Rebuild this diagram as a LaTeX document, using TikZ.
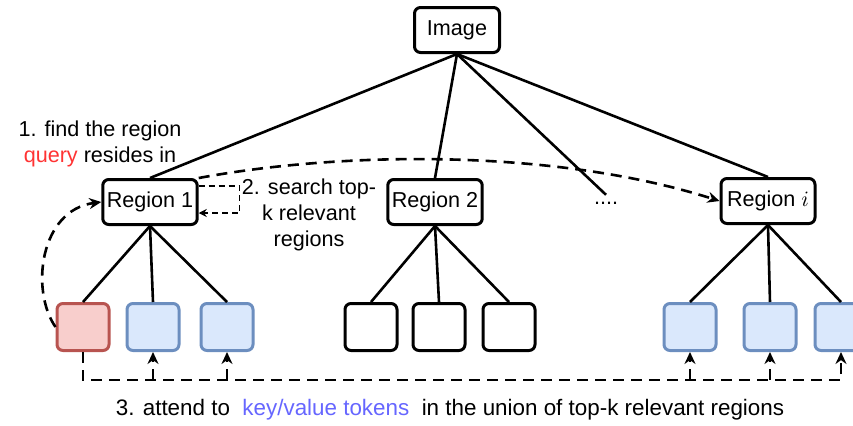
\documentclass[tikz,border=0pt]{standalone}
\usepackage{fontspec}
\setmainfont{Liberation Sans}
\usepackage{xcolor}
\usetikzlibrary{arrows.meta}

\definecolor{redfill}{HTML}{F8CECC}
\definecolor{redline}{HTML}{B85450}
\definecolor{bluefill}{HTML}{DAE8FC}
\definecolor{blueline}{HTML}{6C8EBF}
\definecolor{queryred}{HTML}{FF3333}
\definecolor{kvblue}{HTML}{6666FF}

\begin{document}
\begin{tikzpicture}[x=0.5pt,y=-0.5pt,font=\fontsize{10.8}{13}\selectfont,
    box/.style={draw, line width=1.5pt, rounded corners=3pt, fill=white,
        minimum height=22.5pt, inner sep=2pt},
    regbox/.style={box, minimum width=47pt},
    leaf/.style={box, minimum width=26pt, minimum height=23.5pt},
    blueleaf/.style={leaf, draw=blueline, fill=bluefill},
    redleaf/.style={leaf, draw=redline, fill=redfill},
    edge/.style={line width=1.3pt},
    dashline/.style={line width=1.3pt, dash pattern=on 5.5pt off 3.5pt, -{Stealth[length=6pt,width=5.5pt]}}]
    \useasboundingbox (0,0) rectangle (853,425);
    \clip (0,0) rectangle (853,425);

    % tree
    \node[box, minimum width=42.5pt] (img) at (457,30) {Image};
    \node[regbox] (r1) at (150,202) {Region 1};
    \node[regbox] (r2) at (435,202) {Region 2};
    \node (dots) at (606,203) {....};
    \node[regbox] (ri) at (768,201) {Region $i$};

    \node[redleaf] (l11) at (83,327) {};
    \foreach \x/\n in {153/l12, 227/l13, 690/li1, 770/li2, 841/li3}
        \node[blueleaf] (\n) at (\x,327) {};
    \foreach \x/\n in {371/l21, 439/l22, 509/l23}
        \node[leaf] (\n) at (\x,327) {};

    \foreach \n in {r1, r2, dots, ri}
        \draw[edge] (img.south) -- (\n.north);
    \foreach \a/\b in {r1/l11, r1/l12, r1/l13, r2/l21, r2/l22, r2/l23, ri/li1, ri/li2, ri/li3}
        \draw[edge] (\a.south) -- (\b.north);

    % step 1 and 2
    \node[align=center] (find) at (100,144) {1. find the region\\\textcolor{queryred}{query} resides in};
    \node[align=center] (search) at (309,215) {2. search top-\\k relevant\\regions};
    \draw[dashline] (l11.west) .. controls (30,290) and (40,210) .. (r1.west);
    \draw[dashline, line width=0.7pt, dash pattern=on 3pt off 2pt, -{Stealth[length=4pt,width=4pt]}]
        ([yshift=8pt]r1.east) -- ++(41,0) -- ++(0,27) -- ([yshift=-5.5pt]r1.east);
    \draw[dashline] (r1.north east) .. controls (350,150) and (560,150) .. (ri.west);

    % step 3
    \coordinate (base) at (0,380);
    \draw[dashline] (l11.south) -- (l11.south |- base) -- (li3.south |- base) -- (li3.south);
    \foreach \n in {l12, l13, li1, li2}
        \draw[dashline] (\n.south |- base) -- (\n.south);
    \node[font=\fontsize{11.2}{13}\selectfont] (attend) at (450,410) {3. attend to\ \ \textcolor{kvblue}{key/value tokens}\ \ in the union of top-k relevant regions};
\end{tikzpicture}
\end{document}
